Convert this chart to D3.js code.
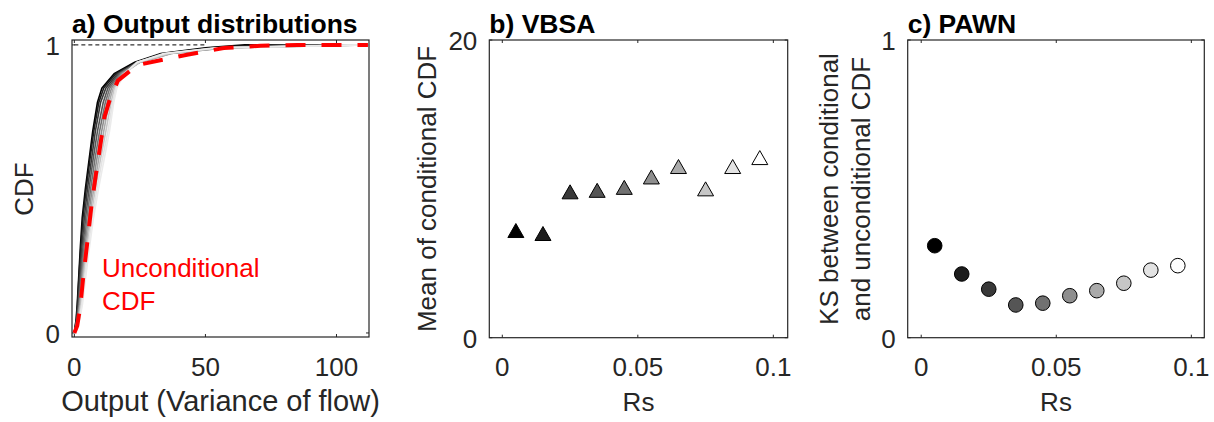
<!DOCTYPE html>
<html><head><meta charset="utf-8">
<script src="https://cdn.jsdelivr.net/npm/d3@7"></script>
<style>
html,body{margin:0;padding:0;background:#fff;}
svg{display:block;font-family:"Liberation Sans",Arial,Helvetica,sans-serif;}
</style></head>
<body><svg id="chart" width="1214" height="422"></svg>
<script>
// ---------------- data ----------------
const cdfLevels = [0, 0.05, 0.1, 0.2, 0.3, 0.4, 0.5, 0.6, 0.7, 0.8, 0.85, 0.9, 0.94, 0.97, 0.99, 1.0];
// conditional CDF quantiles (output value at each CDF level), one per Rs class
const condCdf1  = [0, 0.7, 1.1, 1.7, 2.3, 3.0, 4.2, 5.6, 7.0, 8.8, 10.5, 15.2, 23, 33, 50, 65];
const condCdf2  = [0, 0.8, 1.2, 1.8, 2.5, 3.3, 4.5, 5.9, 7.4, 9.3, 11.2, 15.8, 24, 34, 52, 70];
const condCdf3  = [0, 0.9, 1.4, 2.1, 2.9, 3.8, 5.0, 6.5, 8.0, 10.0, 12.0, 16.5, 24, 35, 55, 80];
const condCdf4  = [0, 1.1, 1.6, 2.4, 3.3, 4.3, 5.6, 7.1, 8.8, 11.0, 12.8, 17.0, 25, 36, 56, 90];
const condCdf5  = [0, 1.2, 1.8, 2.7, 3.7, 4.8, 6.2, 7.8, 9.6, 11.8, 13.5, 17.5, 24, 36, 57, 100];
const condCdf6  = [0, 1.4, 2.0, 3.0, 4.1, 5.3, 6.8, 8.5, 10.4, 12.5, 14.2, 18.0, 25, 37, 58, 110];
const condCdf7  = [0, 1.5, 2.2, 3.3, 4.5, 5.8, 7.4, 9.2, 11.2, 13.2, 14.8, 18.5, 25, 37, 58, 112];
const condCdf8  = [0, 1.7, 2.5, 3.6, 4.9, 6.3, 8.0, 9.9, 12.0, 14.0, 15.3, 18.8, 25, 36, 56, 112];
const condCdf9  = [0, 1.9, 2.8, 4.0, 5.3, 6.8, 8.6, 10.6, 12.8, 14.6, 15.8, 19.0, 24, 35, 55, 112];
const condCdf10 = [0, 2.1, 3.1, 4.4, 5.8, 7.3, 9.2, 11.3, 13.4, 15.0, 16.2, 19.2, 24, 34, 54, 112];
const uncondLevels = [0, 0.025, 0.094, 0.186, 0.32, 0.44, 0.555, 0.67, 0.75, 0.81, 0.876, 0.93, 0.966, 0.989, 0.997, 1.0, 1.0];
const uncondCdf    = [0, 1.1, 2.3, 3.3, 5.0, 6.5, 8.3, 10.2, 11.5, 13.5, 16.6, 24, 43, 57, 71, 85, 112];
const refLineX = [0, 50];
const refLineY = [1, 1];

const rs = [0.005, 0.015, 0.025, 0.035, 0.045, 0.055, 0.065, 0.075, 0.085, 0.095];
const vbsaMean = [7.2, 7.0, 9.8, 9.9, 10.1, 10.8, 11.5, 10.0, 11.5, 12.1];
const pawnKS = [0.309, 0.214, 0.163, 0.110, 0.116, 0.141, 0.158, 0.183, 0.227, 0.242];

const outTicks = [0, 50, 100];
const cdfTicks = [0, 1];
const rsTicks = [0, 0.05, 0.1];
const rsTickLabels = ["0", "0.05", "0.1"];
const vbsaTicks = [0, 20];
const pawnTicks = [0, 1];

const titles = ["a) Output distributions", "b) VBSA", "c) PAWN"];
const xLabels = ["Output (Variance of flow)", "Rs", "Rs"];

// ---------------- drawing ----------------
const svg = d3.select("#chart");
const AX = "#262626";
const grayOf = i => { const v = Math.round(255 * i / 9); return `rgb(${v},${v},${v})`; };

function panel(box, xDom, yDom, xT, yT, xFmt, yFmt, title, xLabel) {
  const x = d3.scaleLinear().domain(xDom).range([box.l, box.r]);
  const y = d3.scaleLinear().domain(yDom).range([box.b, box.t]);
  const g = svg.append("g");
  const tl = 3;
  xT.forEach(v => {
    g.append("line").attr("x1", x(v)).attr("x2", x(v)).attr("y1", box.b).attr("y2", box.b - tl).attr("stroke", AX);
    g.append("line").attr("x1", x(v)).attr("x2", x(v)).attr("y1", box.t).attr("y2", box.t + tl).attr("stroke", AX);
  });
  yT.forEach(v => {
    g.append("line").attr("y1", y(v)).attr("y2", y(v)).attr("x1", box.l).attr("x2", box.l + tl).attr("stroke", AX);
    g.append("line").attr("y1", y(v)).attr("y2", y(v)).attr("x1", box.r).attr("x2", box.r - tl).attr("stroke", AX);
  });
  g.selectAll(".xl").data(xT).enter().append("text")
    .attr("x", d => x(d)).attr("y", 376).attr("text-anchor", "middle")
    .attr("font-size", 26).attr("fill", AX).text((d, i) => xFmt(d, i));
  g.selectAll(".yl").data(yT).enter().append("text")
    .attr("x", box.l - 12).attr("y", d => y(d) + 10).attr("text-anchor", "end")
    .attr("font-size", 26).attr("fill", AX).text((d, i) => yFmt(d, i));
  g.append("text").attr("x", box.l).attr("y", 33).attr("font-size", 26.5).attr("font-weight", "bold")
    .attr("fill", "#000").text(title);
  g.append("text").attr("x", (box.l + box.r) / 2).attr("y", 411).attr("text-anchor", "middle")
    .attr("font-size", xLabel.length > 5 ? 29 : 26).attr("fill", AX).text(xLabel);
  return {x, y, g};
}

function frame(box) {
  svg.append("rect").attr("x", box.l).attr("y", box.t).attr("width", box.r - box.l).attr("height", box.b - box.t)
    .attr("fill", "none").attr("stroke", AX).attr("stroke-width", 1.2);
}

// Panel a
const boxA = {l: 72, r: 369, t: 40, b: 337};
const pa = panel(boxA, [-0.9, 112.4], [-0.014, 1.017], outTicks, cdfTicks, d => d, d => d, titles[0], xLabels[0]);
svg.append("clipPath").attr("id", "clipA").append("rect")
  .attr("x", boxA.l).attr("y", boxA.t).attr("width", boxA.r - boxA.l).attr("height", boxA.b - boxA.t);
const clipG = svg.append("g").attr("clip-path", "url(#clipA)");
const lineA = d3.line().x(d => pa.x(d[0])).y(d => pa.y(d[1]));
clipG.append("path").datum(refLineX.map((v, i) => [v, refLineY[i]])).attr("d", lineA)
  .attr("fill", "none").attr("stroke", "#000").attr("stroke-width", 1).attr("stroke-dasharray", "4,3");
const condSeries = [condCdf1, condCdf2, condCdf3, condCdf4, condCdf5, condCdf6, condCdf7, condCdf8, condCdf9, condCdf10];
condSeries.forEach((s, i) => {
  const pts = s.map((v, k) => [v, cdfLevels[k]]);
  pts.push([112.4, 1]);
  clipG.append("path").datum(pts).attr("d", lineA).attr("fill", "none")
    .attr("stroke", grayOf(Math.min(i, 8.3))).attr("stroke-width", 1.6);
});
clipG.append("path").datum(uncondCdf.map((v, k) => [v, uncondLevels[k]])).attr("d", lineA)
  .attr("fill", "none").attr("stroke", "#ff0000").attr("stroke-width", 4).attr("stroke-dasharray", "20,16");
svg.append("text").attr("x", 102).attr("y", 277).attr("font-size", 26).attr("fill", "#ff0000").text("Unconditional");
svg.append("text").attr("x", 102).attr("y", 310).attr("font-size", 26).attr("fill", "#ff0000").text("CDF");
svg.append("text").attr("transform", "translate(33,189) rotate(-90)").attr("text-anchor", "middle")
  .attr("font-size", 26).attr("fill", AX).text("CDF");
frame(boxA);

// Panel b
const boxB = {l: 489.3, r: 787.7, t: 40, b: 337.7};
const pb = panel(boxB, [-0.0048, 0.1053], [0, 20], rsTicks, vbsaTicks, (d, i) => rsTickLabels[i], d => d, titles[1], xLabels[1]);
const tw = 16, th = 14;
const triPath = `M0,${-th/2}L${tw/2},${th/2}L${-tw/2},${th/2}Z`;
svg.append("g").selectAll("path").data(rs).enter().append("path")
  .attr("transform", (d, i) => `translate(${pb.x(d)},${pb.y(vbsaMean[i])})`)
  .attr("d", triPath).attr("fill", (d, i) => grayOf(i)).attr("stroke", "#000").attr("stroke-width", 1);
svg.append("text").attr("transform", "translate(436,189) rotate(-90)").attr("text-anchor", "middle")
  .attr("font-size", 26).attr("fill", AX).text("Mean of conditional CDF");
frame(boxB);

// Panel c
const boxC = {l: 907.7, r: 1204.3, t: 40, b: 337.7};
const pc = panel(boxC, [-0.005, 0.1048], [0, 1], rsTicks, pawnTicks, (d, i) => rsTickLabels[i], d => d, titles[2], xLabels[2]);
svg.append("g").selectAll("circle").data(rs).enter().append("circle")
  .attr("cx", d => pc.x(d)).attr("cy", (d, i) => pc.y(pawnKS[i])).attr("r", 7.3)
  .attr("fill", (d, i) => grayOf(i)).attr("stroke", "#000").attr("stroke-width", 1);
const kl = svg.append("text").attr("transform", "translate(0,189) rotate(-90)").attr("text-anchor", "middle")
  .attr("font-size", 26).attr("fill", AX);
kl.append("tspan").attr("x", 0).attr("y", 838).text("KS between conditional");
kl.append("tspan").attr("x", 0).attr("y", 870).text("and unconditional CDF");
frame(boxC);
</script></body></html>
